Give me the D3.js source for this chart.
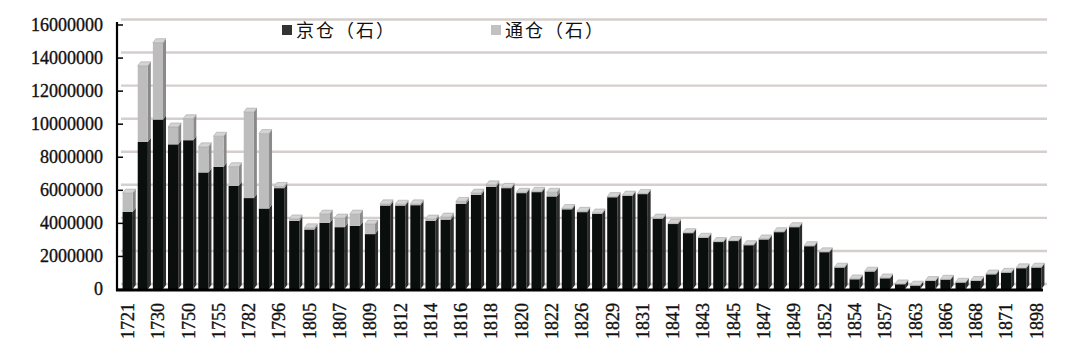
<!DOCTYPE html>
<html>
<head>
<meta charset="utf-8">
<script src="https://cdn.jsdelivr.net/npm/d3@7"></script>
<style>
  body { margin: 0; padding: 0; background: #fff; }
  svg { display: block; }
  .y text, .x text { font-family: 'Liberation Serif', serif; fill: #111; stroke: #111; stroke-width: 0.35px; }
  .legend text { font-family: 'Noto Sans CJK SC', sans-serif; font-size: 18px; fill: #111; letter-spacing: 2px; }
</style>
</head>
<body>
<svg id="chart" width="1080" height="364"></svg>
<script>
// years; only every second one is labelled on the axis
const years = ['1721', '1725', '1730', '1740', '1750', '1753', '1755', '1760', '1782', '1790',
  '1796', '1800', '1805', '1806', '1807', '1808', '1809', '1810', '1812', '1813',
  '1814', '1815', '1816', '1817', '1818', '1819', '1820', '1821', '1822', '1825',
  '1826', '1828', '1829', '1830', '1831', '1840', '1841', '1842', '1843', '1844',
  '1845', '1846', '1847', '1848', '1849', '1850', '1852', '1853', '1854', '1856',
  '1857', '1860', '1863', '1865', '1866', '1867', '1868', '1870', '1871', '1873', '1898']

// 京仓 (石)
const jingCang = [4670000, 8900000, 10250000, 8750000, 9000000, 7050000, 7390000, 6240000, 5500000, 4870000,
  6100000, 4120000, 3600000, 4000000, 3740000, 3820000, 3320000, 5050000, 5050000, 5070000,
  4130000, 4200000, 5150000, 5700000, 6180000, 6100000, 5800000, 5860000, 5600000, 4820000,
  4650000, 4550000, 5550000, 5640000, 5740000, 4250000, 3930000, 3380000, 3100000, 2840000,
  2900000, 2650000, 3000000, 3440000, 3740000, 2590000, 2230000, 1300000, 590000, 1060000,
  650000, 290000, 210000, 490000, 570000, 390000, 490000, 890000, 990000, 1260000, 1300000]

// 通仓 (石)
const tongCang = [1130000, 4600000, 4650000, 1050000, 1300000, 1550000, 1850000, 1160000, 5200000, 4530000,
  100000, 120000, 100000, 530000, 550000, 710000, 610000, 100000, 80000, 80000,
  100000, 150000, 150000, 100000, 120000, 50000, 50000, 50000, 250000, 50000,
  50000, 50000, 40000, 40000, 40000, 40000, 40000, 30000, 30000, 30000,
  30000, 30000, 30000, 30000, 30000, 30000, 20000, 20000, 20000, 20000,
  20000, 20000, 20000, 20000, 20000, 20000, 20000, 20000, 20000, 20000, 20000]

const yTicks = [0, 2000000, 4000000, 6000000, 8000000, 10000000, 12000000, 14000000, 16000000]
const seriesNames = ['京仓（石）', '通仓（石）']

const svg = d3.select('#chart')
const dx = 3, dy = 4   // 3d depth

const x = d3.scaleBand().domain(years).range([120, 1044]).paddingInner(0.33).paddingOuter(0.17)
const y = d3.scaleLinear().domain([0, 16000000]).range([289, 24.5])

// back wall gridlines
svg.append('g')
  .selectAll('line')
  .data(yTicks)
  .enter()
  .append('line')
  .attr('x1', 121)
  .attr('x2', 1047)
  .attr('y1', d => y(d) - 5)
  .attr('y2', d => y(d) - 5)
  .attr('stroke', '#d6cecc')
  .attr('stroke-width', 2.4)

const rows = years.map((yr, i) => ({year: yr, jing: jingCang[i], tong: tongCang[i]}))
const stacked = d3.stack().keys(['jing', 'tong'])(rows)
const front = ['#0a0e0d', '#bebdbd']
const side = ['#2c2c2c', '#8a8a8a']
const w = x.bandwidth()

const g = svg.selectAll('g.series')
  .data(stacked)
  .enter()
  .append('g')
  .classed('series', true)

g.selectAll('path.side')
  .data((s, k) => s.map(d => ({d, k})))
  .enter()
  .append('path')
  .attr('fill', o => side[o.k])
  .attr('d', o => {
    const x0 = x(o.d.data.year) + w
    const t = y(o.d[1]), b = y(o.d[0])
    return `M${x0},${t}L${x0 + dx},${t - dy}L${x0 + dx},${b - dy}L${x0},${b}Z`
  })

g.selectAll('rect')
  .data((s, k) => s.map(d => ({d, k})))
  .enter()
  .append('rect')
  .attr('x', o => x(o.d.data.year))
  .attr('y', o => y(o.d[1]))
  .attr('width', w)
  .attr('height', o => y(o.d[0]) - y(o.d[1]))
  .attr('fill', o => front[o.k])

// top faces
svg.append('g')
  .selectAll('path')
  .data(stacked[1])
  .enter()
  .append('path')
  .attr('fill', '#d4d4d4')
  .attr('stroke', '#9a9a9a')
  .attr('stroke-width', 0.5)
  .attr('d', d => {
    const x0 = x(d.data.year), t = y(d[1])
    return `M${x0},${t}L${x0 + dx},${t - dy}L${x0 + w + dx},${t - dy}L${x0 + w},${t}Z`
  })

// y axis
const yAxis = d3.axisLeft(y).tickValues(yTicks).tickFormat(d3.format('d'))
  .tickSizeInner(-6).tickSizeOuter(0).tickPadding(14)
const ya = svg.append('g').attr('class', 'y').attr('transform', 'translate(117,0)').call(yAxis)
ya.select('.domain').remove()
ya.selectAll('.tick line').attr('stroke', '#000').attr('stroke-width', 1.5)
ya.selectAll('text').style('font-size', '18px')
svg.append('line').attr('x1', 117).attr('x2', 117).attr('y1', 22).attr('y2', 291)
  .attr('stroke', '#000').attr('stroke-width', 2.2)

// x axis
const xAxis = d3.axisBottom(x).tickValues(years.filter((d, i) => i % 2 === 0)).tickSize(0)
const xa = svg.append('g').attr('class', 'x').attr('transform', 'translate(0,290)').call(xAxis)
xa.select('.domain').remove()
xa.selectAll('text')
  .style('font-size', '18px')
  .attr('transform', 'rotate(-90)')
  .attr('x', -13)
  .attr('y', 0)
  .attr('dy', '0.35em')
  .style('text-anchor', 'end')
svg.append('line').attr('x1', 116).attr('x2', 1043).attr('y1', 290).attr('y2', 290)
  .attr('stroke', '#000').attr('stroke-width', 3)

// legend
const legend = svg.append('g').attr('class', 'legend')
const lx = [282, 491]
const lcol = ['#333333', '#c2c0c0']
seriesNames.forEach((name, i) => {
  legend.append('rect').attr('x', lx[i]).attr('y', 25).attr('width', 10).attr('height', 10).attr('fill', lcol[i])
  legend.append('text').attr('x', lx[i] + 14).attr('y', 37).text(name)
})
</script>
</body>
</html>
